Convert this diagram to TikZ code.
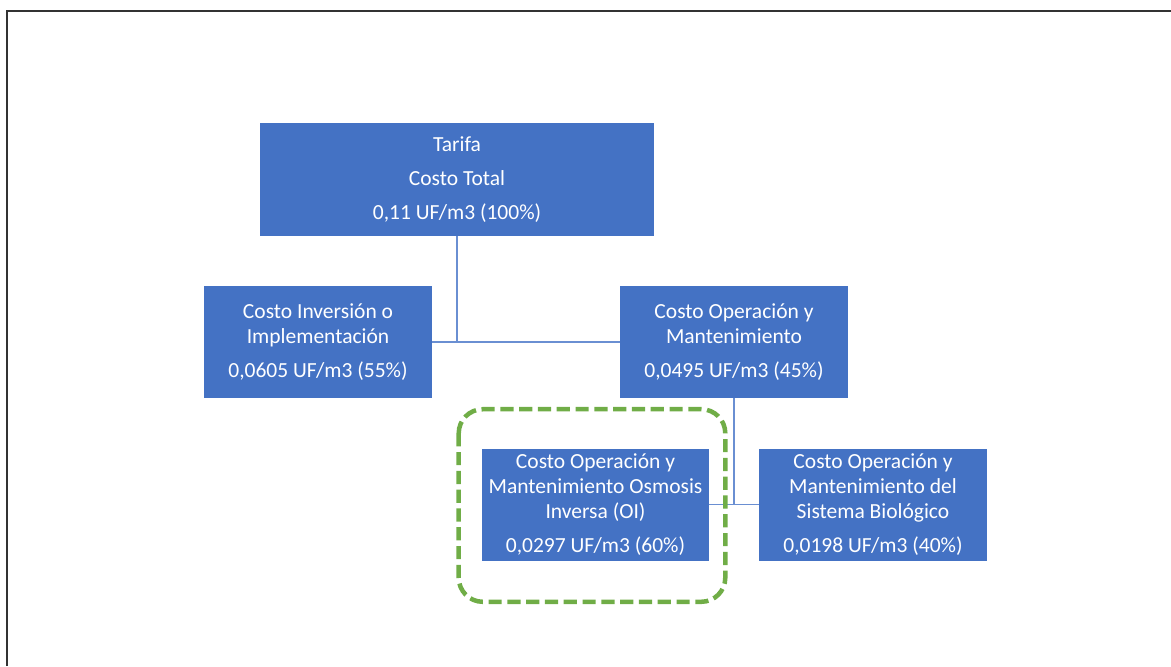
\documentclass[tikz,border=0pt]{standalone}
\usepackage{fontspec}
\setmainfont{Carlito}
\usetikzlibrary{calc}
\definecolor{boxblue}{HTML}{4472C4}
\definecolor{linkblue}{HTML}{6A8FD2}
\definecolor{ogreen}{HTML}{70AD47}
\definecolor{frame}{HTML}{333333}

\begin{document}
\begin{tikzpicture}[
    costbox/.style={fill=boxblue, text=white, align=center, inner sep=0pt,
        minimum width=5.7cm, minimum height=2.8cm,
        font=\fontsize{15.3}{17.8}\selectfont},
    link/.style={linkblue, line width=1.1pt},
    dashbox/.style={ogreen, line width=3.2pt, dash pattern=on 0.33cm off 0.14cm,
        rounded corners=0.6cm},
]
\useasboundingbox (0,0) rectangle (29.275,-16.65);

% === FRAME (left and top edge) ===
\draw[frame, line width=1.8pt] (0.18,-16.65) -- (0.18,-0.28) -- (29.275,-0.28);

% === NODES ===
\node[costbox, minimum width=9.85cm, minimum height=2.83cm] (tarifa) at (11.425,-4.4875)
    {Tarifa\\[6.4pt] Costo Total\\[6.4pt] 0,11 UF/m3 (100\%)};
\node[costbox] (inv) at (7.95,-8.55)
    {Costo Inversión o\\ Implementación\\[6.4pt] 0,0605 UF/m3 (55\%)};
\node[costbox] (om) at (18.35,-8.55)
    {Costo Operación y\\ Mantenimiento\\[6.4pt] 0,0495 UF/m3 (45\%)};
\node[costbox, minimum width=5.675cm] (oi) at (14.8875,-12.6125)
    {Costo Operación y\\ Mantenimiento Osmosis\\ Inversa (OI)\\[6.4pt] 0,0297 UF/m3 (60\%)};
\node[costbox] (bio) at (21.825,-12.6125)
    {Costo Operación y\\ Mantenimiento del\\ Sistema Biológico\\[6.4pt] 0,0198 UF/m3 (40\%)};

% === CONNECTORS ===
\foreach \top/\left/\right in {tarifa/inv/om, om/oi/bio}{
    \draw[link] (\top.south) -- (\top.south |- \left.east);
    \draw[link] (\left.east) -- (\right.west);
}

% === HIGHLIGHT round OI ===
\draw[dashbox] ($(oi.north west)+(-0.575,0.975)$) rectangle ($(oi.south east)+(0.4,-1.025)$);

\end{tikzpicture}
\end{document}
